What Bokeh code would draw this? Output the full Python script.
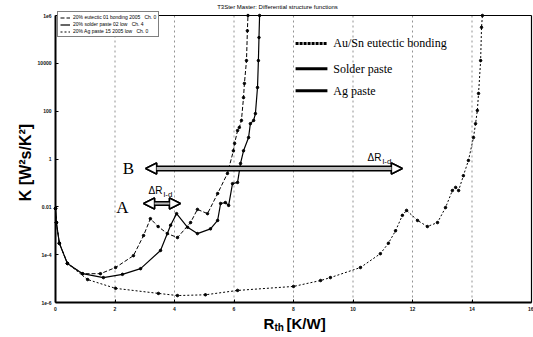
from bokeh.plotting import figure
from bokeh.models import (Label, Arrow, NormalHead, FixedTicker, Legend,
                          LegendItem, ColumnDataSource)
from bokeh.embed import file_html
from bokeh.resources import INLINE

# ---------------- data ----------------
x_ticks = [0, 2, 4, 6, 8, 10, 12, 14, 16]
y_ticks = [1e-6, 1e-4, 0.01, 1, 100, 1e4, 1e6]
y_tick_labels = ["1e-6", "1e-4", "0.01", "1", "100", "10000", "1e6"]

series_names = ["Au/Sn eutectic bonding", "Solder paste", "Ag paste"]
legend_texts = ["20% eutectic 01 bonding 2005   Ch. 0",
                "20% solder paste 02 low   Ch. 4",
                "20% Ag paste 15 2005 low   Ch. 0"]

ausn_rth = [0.0, 0.03, 0.13, 0.40, 0.91, 1.51, 2.02, 2.62, 2.96, 3.19, 3.45,
            3.76, 4.10, 4.54, 4.77, 5.11, 5.45, 5.78, 5.98, 6.02, 6.12, 6.18,
            6.25, 6.32, 6.35, 6.42, 6.45, 6.47]
ausn_k = [8.5e-3, 2.2e-3, 3.0e-4, 4.3e-5, 1.6e-5, 1.6e-5, 2.9e-5, 9.1e-5,
          6.3e-4, 3.2e-3, 1.5e-3, 7.6e-4, 5.2e-4, 2.2e-3, 7.8e-3, 5.2e-3,
          0.036, 0.25, 2.2, 4.5, 15.5, 21, 41, 370, 1450, 13000, 2.3e5, 1e6]

solder_rth = [0.0, 0.03, 0.13, 0.40, 0.91, 1.61, 2.25, 2.86, 3.53, 3.87, 4.07,
              4.44, 4.77, 5.21, 5.45, 5.55, 5.71, 5.82, 5.95, 6.12, 6.22, 6.32,
              6.49, 6.55, 6.66, 6.72, 6.79, 6.82, 6.84, 6.86]
solder_k = [8.5e-3, 2.2e-3, 3.0e-4, 4.3e-5, 1.6e-5, 1.1e-5, 1.5e-5, 2.6e-5,
            1.5e-4, 1.7e-3, 5.2e-3, 1.4e-3, 7.6e-4, 1.2e-3, 2.7e-3, 0.0138,
            0.0151, 0.0115, 0.093, 0.105, 0.65, 2.2, 7.9, 30, 41, 79, 980,
            13000, 1.2e5, 1e6]

ag_rth = [0.0, 0.03, 0.13, 0.40, 1.08, 2.02, 3.46, 4.10, 5.04, 6.12, 8.0,
          8.91, 9.24, 10.25, 10.92, 11.19, 11.43, 11.66, 11.80, 12.17, 12.50,
          12.84, 13.11, 13.34, 13.45, 13.55, 13.71, 13.88, 14.05, 14.12,
          14.18, 14.22, 14.29, 14.32, 14.35]
ag_k = [8.5e-3, 2.2e-3, 3.0e-4, 4.3e-5, 9.1e-6, 3.9e-6, 2.4e-6, 1.95e-6,
        2.1e-6, 3.2e-6, 4.7e-6, 8.3e-6, 1.1e-5, 2.9e-5, 1.1e-4, 3.0e-4,
        1.0e-3, 4.4e-3, 7.1e-3, 2.7e-3, 1.5e-3, 2.2e-3, 9.3e-3, 0.048, 0.065,
        0.048, 0.20, 0.87, 7.9, 30, 107, 550, 13000, 3.2e5, 1e6]

# ---------------- figure (frame fills canvas, axes fixed inside) ----------------
W, H = 533, 337
L, R, T, B = 55, 531, 15, 302          # plot box in canvas pixels
xmin, xmax = x_ticks[0], x_ticks[-1]
ymin_exp, ymax_exp = -6, 6
px_x = (R - L) / (xmax - xmin)
px_dec = (B - T) / (ymax_exp - ymin_exp)
x_range = (xmin - L / px_x, xmax + (W - R) / px_x)
y_range = (10 ** (ymin_exp - (H - B) / px_dec), 10 ** (ymax_exp + T / px_dec))

p = figure(width=W, height=H, x_range=x_range, y_range=y_range,
           y_axis_type="log", output_backend="svg", toolbar_location=None,
           min_border=0, background_fill_color="white",
           border_fill_color="white")
p.outline_line_color = None

p.xaxis.ticker = FixedTicker(ticks=x_ticks)
p.yaxis.ticker = FixedTicker(ticks=y_ticks)
p.yaxis.major_label_overrides = {t: l for t, l in zip(y_ticks, y_tick_labels)}
p.xaxis.fixed_location = y_ticks[0]
p.yaxis.fixed_location = x_ticks[0]
p.xaxis.bounds = (x_ticks[0], x_ticks[-1])
p.yaxis.bounds = (y_ticks[0], y_ticks[-1])
for ax in (p.xaxis, p.yaxis):
    ax.axis_line_width = 2
    ax.axis_line_color = "black"
    ax.major_tick_in = 3
    ax.major_tick_out = 0
    ax.minor_tick_line_color = None
    ax.major_label_text_font_size = "5px"
    ax.major_label_text_color = "#111111"
    ax.major_label_text_font = "Liberation Sans"
    ax.major_label_text_font_style = "bold"
    ax.major_label_standoff = 4

p.xgrid.grid_line_color = None
p.ygrid.grid_line_color = None

# dashed vertical grid and box edges
p.segment(x0=x_ticks[1:-1], y0=[y_ticks[0]] * (len(x_ticks) - 2),
          x1=x_ticks[1:-1], y1=[y_ticks[-1]] * (len(x_ticks) - 2),
          line_color="#777777", line_dash="2 3", line_width=0.8)
p.segment(x0=[x_ticks[0], x_ticks[-1]], y0=[y_ticks[-1], y_ticks[0]],
          x1=[x_ticks[-1], x_ticks[-1]], y1=[y_ticks[-1], y_ticks[-1]],
          line_color="black", line_width=1.2)

styles = [("4 2", 1.0), ("solid", 1.2), ("2 2", 1.0)]
datas = [(ausn_rth, ausn_k), (solder_rth, solder_k), (ag_rth, ag_k)]
renderers = []
for (xs, ks), (dash, lw) in zip(datas, styles):
    src = ColumnDataSource(dict(x=xs, y=ks))
    r = p.line("x", "y", source=src, line_color="black", line_dash=dash,
               line_width=lw)
    p.scatter("x", "y", source=src, marker="circle", size=2.5,
              color="black")
    renderers.append(r)

legend = Legend(items=[LegendItem(label=t, renderers=[r])
                       for t, r in zip(legend_texts, renderers)],
                location=(57, 300))
legend.label_text_font_size = "5px"
legend.label_text_font = "Liberation Sans"
legend.label_text_color = "black"
legend.label_height = 5
legend.glyph_height = 5
legend.glyph_width = 10
legend.label_standoff = 3
legend.spacing = 1
legend.padding = 2
legend.margin = 0
legend.border_line_color = "black"
legend.border_line_width = 1.5
legend.background_fill_alpha = 1
p.add_layout(legend)

# in-plot key (serif annotations)
key_y = [6.8e4, 6.0e3, 7.2e2]
key_dash = ["3 1", "solid", "solid"]
for yk, name, dash in zip(key_y, series_names, key_dash):
    p.segment(x0=[8.07], y0=[yk], x1=[9.14], y1=[yk], line_color="black",
              line_width=3, line_dash=dash)
    p.add_layout(Label(x=9.34, y=yk, text=name, text_font="Liberation Serif",
                       text_font_size="12px", text_baseline="middle",
                       text_color="black"))

# arrows
def dbl_arrow(x0, x1, yv, w):
    for lw, col in ((w, "black"), (w - 3, "#bbbbbb")):
        p.add_layout(Arrow(x_start=x0, x_end=x1, y_start=yv, y_end=yv,
                           line_width=lw, line_color=col,
                           start=NormalHead(size=11, fill_color="white",
                                            line_color="black", line_width=1.5),
                           end=NormalHead(size=11, fill_color="white",
                                          line_color="black", line_width=1.5)))

dbl_arrow(3.03, 11.66, 0.40, 6)
dbl_arrow(2.96, 4.20, 0.0138, 5)

p.add_layout(Label(x=2.45, y=0.40, text="B", text_font="Liberation Serif",
                   text_font_size="17px", text_align="center",
                   text_baseline="middle", text_color="black"))
p.add_layout(Label(x=2.25, y=0.0093, text="A", text_font="Liberation Serif",
                   text_font_size="17px", text_align="center",
                   text_baseline="middle", text_color="black"))

def scr(cx, cy):
    return dict(x=cx, y=H - cy, x_units="screen", y_units="screen")

for cx, cy in ((148, 190), (367, 157)):
    p.add_layout(Label(**scr(cx, cy), text="ΔR", text_font="Liberation Sans",
                       text_font_size="10px", text_baseline="alphabetic",
                       text_color="black"))
    p.add_layout(Label(**scr(cx + 15, cy + 4), text="l-d",
                       text_font="Liberation Sans", text_font_size="8px",
                       text_baseline="alphabetic", text_color="black"))

# title and axis labels
p.add_layout(Label(**scr(277, 6),
                   text="T3Ster Master: Differential structure functions",
                   text_font="Liberation Sans", text_font_size="6px",
                   text_align="center", text_baseline="middle",
                   text_color="black"))
p.add_layout(Label(**scr(25, 162), text="K [W²s/K²]",
                   text_font="Liberation Sans", text_font_size="16px",
                   text_font_style="bold", text_align="center",
                   text_baseline="middle", angle=1.5708, text_color="black"))
p.add_layout(Label(**scr(263, 323), text="R", text_font="Liberation Sans",
                   text_font_size="15px", text_font_style="bold",
                   text_baseline="alphabetic", text_color="black"))
p.add_layout(Label(**scr(274, 327), text="th", text_font="Liberation Sans",
                   text_font_size="10px", text_font_style="bold",
                   text_baseline="alphabetic", text_color="black"))
p.add_layout(Label(**scr(286, 323), text="[K/W]", text_font="Liberation Sans",
                   text_font_size="15px", text_font_style="bold",
                   text_baseline="alphabetic", text_color="black"))

open("out.html", "w").write(file_html(p, INLINE))
